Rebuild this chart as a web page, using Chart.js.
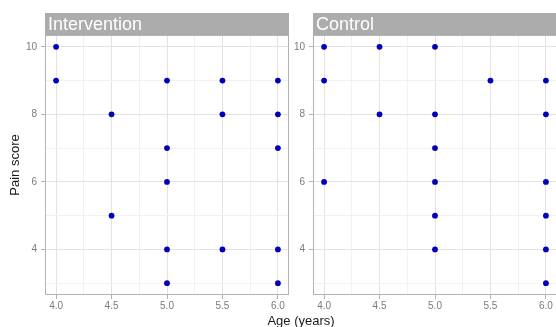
<!DOCTYPE html>
<html>
<head>
<meta charset="utf-8">
<script src="https://cdn.jsdelivr.net/npm/chart.js@4/dist/chart.umd.min.js"></script>
<style>
  html, body { margin:0; padding:0; background:#fff; overflow:hidden; width:556px; height:327px; }
  #wrap { position:relative; width:556px; height:327px; overflow:hidden; }
  canvas { position:absolute; top:0; }
  #xtitle { position:absolute; left:0; width:602px; top:313px; text-align:center;
            font:13px "Liberation Sans", Arial, sans-serif; color:#1a1a1a; }
</style>
</head>
<body>
<div id="wrap">
  <canvas id="c1" width="292" height="327" style="left:0px;width:292px;height:327px"></canvas>
  <canvas id="c2" width="292" height="327" style="left:268px;width:292px;height:327px"></canvas>
  <div id="xtitle">Age (years)</div>
</div>
<script>
// ---- data ----
const panelNames = ['Intervention', 'Control'];
const interventionAge  = [4.0, 4.0, 5.0, 5.5, 6.0, 4.5, 5.5, 6.0, 5.0, 6.0, 5.0, 4.5, 5.0, 5.5, 6.0, 5.0, 6.0];
const interventionPain = [10,  9,   9,   9,   9,   8,   8,   8,   7,   7,   6,   5,   4,   4,   4,   3,   3];
const controlAge  = [4.0, 4.5, 5.0, 4.0, 5.5, 6.0, 4.5, 5.0, 6.0, 5.0, 4.0, 5.0, 6.0, 5.0, 6.0, 5.0, 6.0, 6.0];
const controlPain = [10,  10,  10,  9,   9,   9,   8,   8,   8,   7,   6,   6,   6,   5,   5,   4,   4,   3];
const xTickLabels = [4.0, 4.5, 5.0, 5.5, 6.0];
const yTickLabels = [4, 6, 8, 10];
const xTitle = 'Age (years)';
const yTitle = 'Pain score';

Chart.defaults.font.family = '"Liberation Sans", Arial, sans-serif';

function withMinor(major, lo, hi) {
  const step = major[1] - major[0];
  const minor = [];
  for (let i = -1; i < major.length; i++) {
    const v = (i < 0 ? major[0] - step / 2 : major[i] + step / 2);
    if (v >= lo && v <= hi) minor.push(v);
  }
  return { major, all: major.concat(minor).sort((a, b) => a - b) };
}

const panelPlugin = {
  id: 'panelStrip',
  afterDraw(chart, args, opts) {
    const { ctx, chartArea: a } = chart;
    ctx.save();
    ctx.fillStyle = '#acacac';
    ctx.fillRect(a.left, 13, a.right - a.left, a.top - 13);
    ctx.fillStyle = '#ffffff';
    ctx.font = '18px "Liberation Sans", Arial, sans-serif';
    ctx.textBaseline = 'middle';
    ctx.textAlign = 'left';
    ctx.fillText(opts.label, a.left + 3, (13 + a.top) / 2 + 1);
    ctx.strokeStyle = '#b3b3b3';
    ctx.lineWidth = 1;
    ctx.strokeRect(a.left + 0.5, a.top + 0.5, a.right - a.left - 1, a.bottom - a.top - 1);
    ctx.restore();
  }
};

function makeChart(id, label, xs, ys, showYTitle) {
  const xMin = 3.9, xMax = 6.1, yMin = 2.65, yMax = 10.35;
  const xt = withMinor(xTickLabels, xMin, xMax);
  const yt = withMinor(yTickLabels, yMin, yMax);
  const isMajor = (set, v) => set.some(m => Math.abs(m - v) < 1e-9);
  const gridColor = set => ctx => isMajor(set, ctx.tick.value) ? '#e3e3e3' : '#f1f1f1';
  const tickColor = set => ctx => isMajor(set, ctx.tick.value) ? '#b3b3b3' : 'rgba(0,0,0,0)';
  return new Chart(document.getElementById(id), {
    type: 'scatter',
    data: {
      datasets: [{
        data: xs.map((x, i) => ({ x, y: ys[i] })),
        backgroundColor: '#0000bb',
        borderWidth: 0,
        pointRadius: 2.9,
        pointHoverRadius: 2.9
      }]
    },
    options: {
      responsive: false,
      animation: false,
      events: [],
      layout: { padding: { top: 35, right: 3, left: 0, bottom: 0 } },
      plugins: {
        legend: { display: false },
        tooltip: { enabled: false },
        panelStrip: { label }
      },
      scales: {
        x: {
          type: 'linear', min: xMin, max: xMax,
          afterBuildTicks: s => { s.ticks = xt.all.map(v => ({ value: v })); },
          afterFit: s => { s.height = 32; },
          border: { display: false },
          grid: { color: gridColor(xt.major), tickColor: tickColor(xt.major), tickLength: 4, lineWidth: 1 },
          ticks: {
            autoSkip: false, maxRotation: 0, padding: 1, color: '#7a7a7a', font: { size: 10 },
            callback: v => isMajor(xt.major, v) ? Number(v).toFixed(1) : ''
          }
        },
        y: {
          type: 'linear', min: yMin, max: yMax,
          afterBuildTicks: s => { s.ticks = yt.all.map(v => ({ value: v })); },
          afterFit: s => { s.width = 45; },
          border: { display: false },
          grid: { color: gridColor(yt.major), tickColor: tickColor(yt.major), tickLength: 4, lineWidth: 1 },
          title: { display: showYTitle, text: yTitle, color: '#1a1a1a', font: { size: 13 }, padding: { top: 8, bottom: 0 } },
          ticks: {
            autoSkip: false, padding: 4, color: '#7a7a7a', font: { size: 10 },
            callback: v => isMajor(yt.major, v) ? String(v) : ''
          }
        }
      }
    },
    plugins: [panelPlugin]
  });
}

makeChart('c1', panelNames[0], interventionAge, interventionPain, true);
makeChart('c2', panelNames[1], controlAge, controlPain, false);
document.getElementById('xtitle').textContent = xTitle;
</script>
</body>
</html>
